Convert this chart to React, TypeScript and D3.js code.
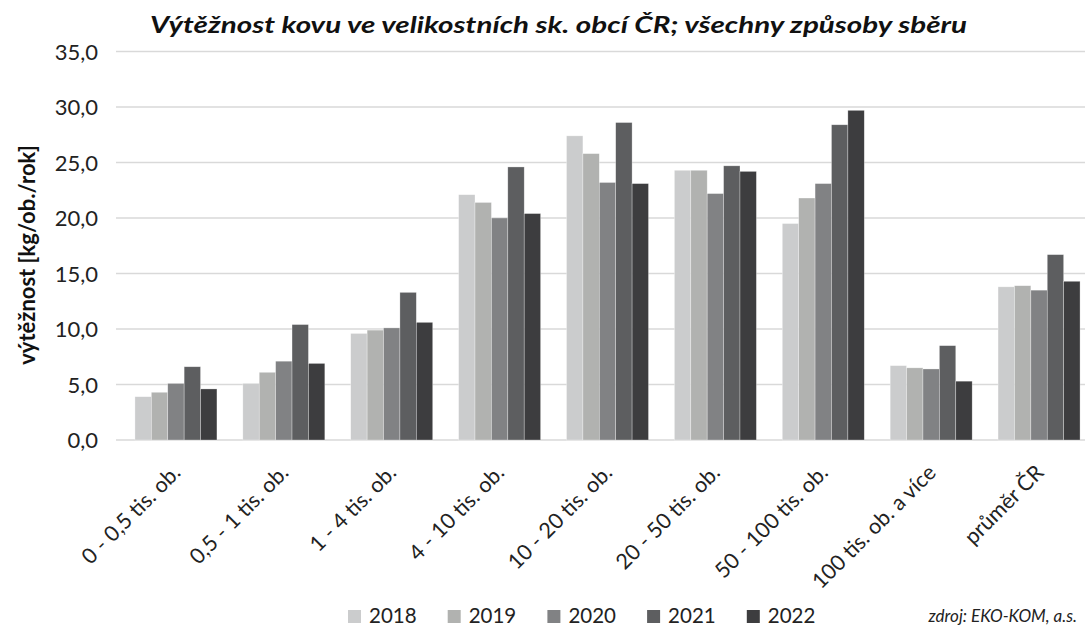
import React, { useEffect, useRef } from 'react';
import * as d3 from 'd3';

const CATEGORIES = [
  '0 - 0,5 tis. ob.',
  '0,5 - 1 tis. ob.',
  '1 - 4 tis. ob.',
  '4 - 10 tis. ob.',
  '10 - 20 tis. ob.',
  '20 - 50 tis. ob.',
  '50 - 100 tis. ob.',
  '100 tis. ob. a více',
  'průměr ČR',
];

const YEARS = ['2018', '2019', '2020', '2021', '2022'];

// values per year, one entry per category
const V2018 = [3.9, 5.1, 9.6, 22.1, 27.4, 24.3, 19.5, 6.7, 13.8];
const V2019 = [4.3, 6.1, 9.9, 21.4, 25.8, 24.3, 21.8, 6.5, 13.9];
const V2020 = [5.1, 7.1, 10.1, 20.0, 23.2, 22.2, 23.1, 6.4, 13.5];
const V2021 = [6.6, 10.4, 13.3, 24.6, 28.6, 24.7, 28.4, 8.5, 16.7];
const V2022 = [4.6, 6.9, 10.6, 20.4, 23.1, 24.2, 29.7, 5.3, 14.3];

const SERIES = [V2018, V2019, V2020, V2021, V2022];
const COLORS = ['#cbcccd', '#b1b2b0', '#818284', '#5d5e60', '#3d3d3f'];
const Y_TICKS = [0, 5, 10, 15, 20, 25, 30, 35];

const W = 1085;
const H = 629;

const App: React.FC = () => {
  const svgRef = useRef<SVGSVGElement>(null);

  useEffect(() => {
    if (!svgRef.current) return;
    const svg = d3.select(svgRef.current);
    svg.selectAll('*').remove();

    const font = 'Lato, "Open Sans", sans-serif';
    const csFmt = d3.formatLocale({ decimal: ',', thousands: ' ', grouping: [3], currency: ['', ' Kč'] }).format('.1f');

    const x0 = d3.scaleBand<string>()
      .domain(CATEGORIES)
      .range([122, 1093])
      .paddingInner(0.24)
      .paddingOuter(0.12);

    const x1 = d3.scaleBand<string>()
      .domain(YEARS)
      .range([0, x0.bandwidth()]);

    const y = d3.scaleLinear().domain([0, 35]).range([440, 51.5]);

    svg.append('rect').attr('width', W).attr('height', H).attr('fill', '#fff');

    // gridlines
    svg.selectAll('.grid')
      .data(Y_TICKS)
      .enter().append('line')
      .attr('x1', 116).attr('x2', W)
      .attr('y1', d => y(d)).attr('y2', d => y(d))
      .attr('stroke', '#d9d9d9')
      .attr('stroke-width', 1.5);

    // y tick labels
    svg.selectAll('.ytick')
      .data(Y_TICKS)
      .enter().append('text')
      .attr('x', 98)
      .attr('y', d => y(d) + 8)
      .attr('text-anchor', 'end')
      .attr('font-family', font)
      .attr('font-size', 22)
      .attr('fill', '#222')
      .text(d => csFmt(d));

    // bars
    SERIES.forEach((vals, si) => {
      svg.selectAll(`.bar-${si}`)
        .data(vals)
        .enter().append('rect')
        .attr('x', (d, i) => (x0(CATEGORIES[i]) ?? 0) + (x1(YEARS[si]) ?? 0))
        .attr('y', d => y(d))
        .attr('width', x1.bandwidth())
        .attr('height', d => y(0) - y(d))
        .attr('fill', COLORS[si])
        .attr('stroke', '#fff')
        .attr('stroke-opacity', 0.5)
        .attr('stroke-width', 0.6);
    });

    // category labels, rotated
    svg.selectAll('.xlab')
      .data(CATEGORIES)
      .enter().append('text')
      .attr('transform', d => `translate(${(x0(d) ?? 0) + x0.bandwidth() / 2 + 6}, 474) rotate(-45)`)
      .attr('text-anchor', 'end')
      .attr('font-family', font)
      .attr('font-size', 21.5)
      .attr('fill', '#222')
      .text(d => d);

    // y axis title
    svg.append('text')
      .attr('transform', 'translate(35, 255) rotate(-90)')
      .attr('text-anchor', 'middle')
      .attr('font-family', font)
      .attr('font-weight', 'bold')
      .attr('font-size', 22)
      .attr('fill', '#111')
      .text('výtěžnost [kg/ob./rok]');

    // title
    svg.append('text')
      .attr('x', 150)
      .attr('y', 33)
      .attr('font-family', font)
      .attr('font-weight', 'bold')
      .attr('font-style', 'italic')
      .attr('font-size', 23)
      .attr('fill', '#111')
      .attr('textLength', 817)
      .attr('lengthAdjust', 'spacingAndGlyphs')
      .text('Výtěžnost kovu ve velikostních sk. obcí ČR; všechny způsoby sběru');

    // legend
    const lg = svg.selectAll('.leg')
      .data(YEARS)
      .enter().append('g')
      .attr('transform', (d, i) => `translate(${348 + i * 99.7}, 0)`);
    lg.append('rect')
      .attr('x', 0).attr('y', 610)
      .attr('width', 13).attr('height', 13)
      .attr('fill', (d, i) => COLORS[i]);
    lg.append('text')
      .attr('x', 21).attr('y', 623)
      .attr('font-family', font)
      .attr('font-size', 20.5)
      .attr('fill', '#222')
      .text(d => d);

    // source
    svg.append('text')
      .attr('x', 1077).attr('y', 622)
      .attr('text-anchor', 'end')
      .attr('font-family', font)
      .attr('font-style', 'italic')
      .attr('font-size', 17)
      .attr('fill', '#222')
      .text('zdroj: EKO-KOM, a.s.');
  }, []);

  return (
    <svg
      ref={svgRef}
      width={W}
      height={H}
      style={{ position: 'absolute', left: 0, top: 0, display: 'block' }}
    />
  );
};

export default App;
